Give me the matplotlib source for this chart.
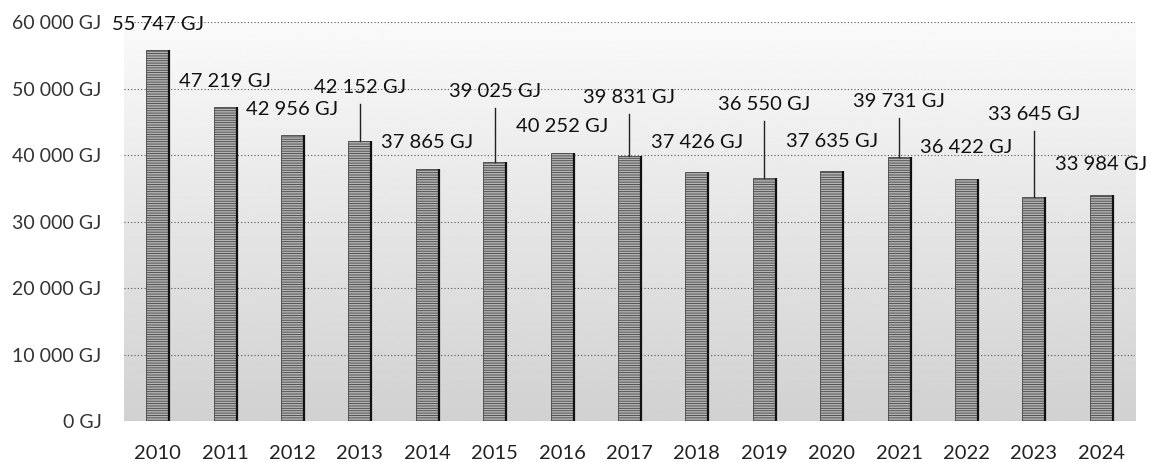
import matplotlib.pyplot as plt
import numpy as np

years = ["2010", "2011", "2012", "2013", "2014", "2015", "2016", "2017",
         "2018", "2019", "2020", "2021", "2022", "2023", "2024"]
energy = [55747, 47219, 42956, 42152, 37865, 39025, 40252, 39831,
          37426, 36550, 37635, 39731, 36422, 33645, 33984]
label_text = ["55 747 GJ", "47 219 GJ", "42 956 GJ", "42 152 GJ", "37 865 GJ",
              "39 025 GJ", "40 252 GJ", "39 831 GJ", "37 426 GJ", "36 550 GJ",
              "37 635 GJ", "39 731 GJ", "36 422 GJ", "33 645 GJ", "33 984 GJ"]

# height (in GJ) where each value label sits, and which ones get a leader line
label_y = [59640, 51050, 46840, 50150, 41870, 49550, 44280, 48640,
           41870, 47590, 42020, 48040, 41110, 46080, 38550]
leader = [False, False, False, True, False, True, False, True,
          False, True, False, True, False, True, False]

plt.rcParams['font.family'] = ['Lato', 'DejaVu Sans']
plt.rcParams['hatch.color'] = '#333333'
plt.rcParams['hatch.linewidth'] = 0.6

fig = plt.figure(figsize=(11.51, 4.62), dpi=100)
ax = fig.add_axes([0.1077, 0.0887, 0.8784, 0.8636])

x = np.arange(len(years))
w = 0.34

# grey stippled plot area, lighter toward the top
grad = np.linspace(0.82, 0.98, 256).reshape(-1, 1)
ax.imshow(grad, cmap='gray', vmin=0, vmax=1, aspect='auto', origin='lower',
          extent=[0, 1, 0, 1], transform=ax.transAxes, zorder=0)

for yv in range(0, 60001, 10000):
    ax.axhline(yv, color='#555555', lw=0.8, ls=(0, (1, 2)), zorder=1)

ax.bar(x, energy, width=w, color='#b4b4b4', edgecolor='#444444',
       linewidth=0.6, hatch='-------', zorder=2)
ax.vlines(x + w / 2, 0, energy, color='#111111', lw=1.6, zorder=3)

for i in range(len(years)):
    ax.text(x[i], label_y[i], label_text[i], ha='center', va='center',
            fontsize=14.5, color='#111111', zorder=5, clip_on=False)
    if leader[i]:
        ax.plot([x[i], x[i]], [label_y[i] - 2500, energy[i]],
                color='#222222', lw=1.0, zorder=4)

ax.set_xlim(-0.5, 14.5)
ax.set_ylim(0, 60000)
ax.set_xticks(x)
ax.set_xticklabels(years, fontsize=14.5, color='#222222')
ax.set_yticks(range(0, 60001, 10000))
ax.set_yticklabels([f"{v:,} GJ".replace(",", " ") for v in range(0, 60001, 10000)],
                   fontsize=14, color='#333333')
ax.tick_params(axis='y', length=0, pad=16)
ax.tick_params(axis='x', length=0, pad=17)
for s in ax.spines.values():
    s.set_visible(False)

fig.savefig("out.png", dpi=100)
